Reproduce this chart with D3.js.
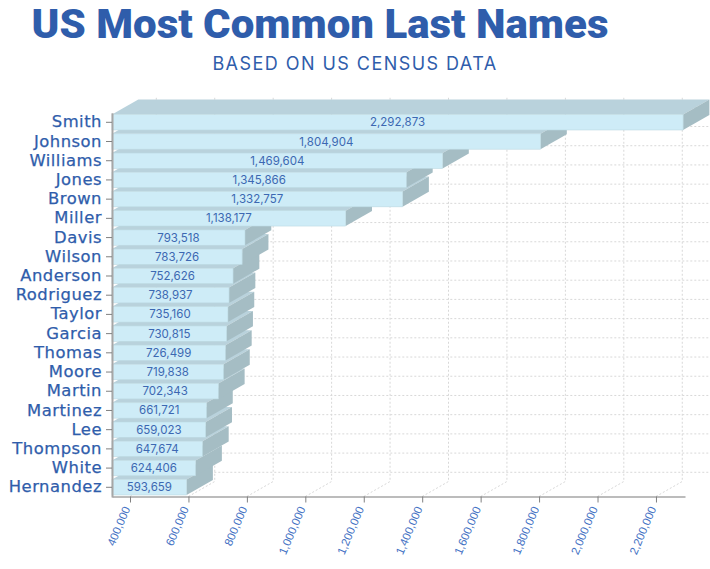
<!DOCTYPE html>
<html><head><meta charset="utf-8">
<script src="https://cdn.jsdelivr.net/npm/d3@7"></script>
<style>html,body{margin:0;background:#fff}svg{display:block}</style>
</head><body><svg id="c" width="710" height="569"></svg>
<script>
const names=["Smith","Johnson","Williams","Jones","Brown","Miller","Davis","Wilson","Anderson","Rodriguez","Taylor","Garcia","Thomas","Moore","Martin","Martinez","Lee","Thompson","White","Hernandez"];
const counts=[2292873,1804904,1469604,1345866,1332757,1138177,793518,783726,752626,738937,735160,730815,726499,719838,702343,661721,659023,647674,624406,593659];
const tickValues=[400000,600000,800000,1000000,1200000,1400000,1600000,1800000,2000000,2200000];
const domainX=[338400,2299400];
const dx=26.3,dy=-15;
const blue="#2f5dab";
const svg=d3.select("#c");
const x=d3.scaleLinear().domain(domainX).range([112,685]);
const y=d3.scaleBand().domain(names).range([112.7,496.9]).paddingInner(0.2).paddingOuter(0.1);
const base=x.range()[0],floor=496.5;

svg.append("text").attr("x",320).attr("y",37.5).attr("text-anchor","middle")
  .attr("font-family","Roboto").attr("font-weight",900).attr("font-size",40.5).attr("fill",blue)
  .attr("textLength",577).attr("lengthAdjust","spacingAndGlyphs").text("US Most Common Last Names");
svg.append("text").attr("x",355).attr("y",70).attr("text-anchor","middle")
  .attr("font-family","Inter").attr("font-size",18).attr("letter-spacing",1.45).attr("fill",blue).text("BASED ON US CENSUS DATA");

const grid=svg.append("g").attr("fill","none").attr("stroke","#d8d8d8").attr("stroke-dasharray","2,2");
tickValues.forEach(t=>{
  const px=x(t);
  grid.append("path").attr("d",`M${px},${floor}L${px+dx},${floor+dy}V97`);
});
names.forEach(n=>{
  const cy=y(n)+y.bandwidth()/2+dy;
  grid.append("line").attr("x1",base+dx).attr("x2",x(counts[0])+dx).attr("y1",cy).attr("y2",cy);
});

const bars=svg.append("g");
names.map((n,i)=>({n,v:counts[i]})).reverse().forEach(d=>{
  const t=y(d.n),h=y.bandwidth(),r=x(d.v);
  const g=bars.append("g");
  g.append("polygon").attr("fill","#b9d2dc").attr("points",[[base,t],[base+dx,t+dy],[r+dx,t+dy],[r,t]].join(" "));
  g.append("polygon").attr("fill","#a5bdc4").attr("points",[[r,t],[r+dx,t+dy],[r+dx,t+h+dy],[r,t+h]].join(" "));
  g.append("rect").attr("x",base).attr("y",t).attr("width",r-base).attr("height",h).attr("fill","#ceecf7").attr("stroke","#bcd9e2").attr("stroke-width",0.6);
});

const fmt=d3.format(",");
const labels=svg.append("g").attr("font-family","Inter").attr("font-weight",400).attr("font-size",11.5).attr("fill","#3c68b2").attr("text-anchor","middle");
names.forEach((n,i)=>{
  labels.append("text").attr("x",(base+x(counts[i]))/2).attr("y",y(n)+y.bandwidth()/2+4).text(fmt(counts[i]));
});

const ax=svg.append("g").attr("transform",`translate(0,${floor})`).call(d3.axisBottom(x).tickValues(tickValues).tickSize(6).tickSizeOuter(0).tickPadding(6).tickFormat(fmt));
ax.select(".domain").attr("stroke","#a6a6a6").attr("stroke-width",1.6);
ax.selectAll(".tick line").attr("stroke","#808080");
ax.selectAll(".tick text").attr("font-family","Liberation Sans").attr("font-size",11.5).attr("fill","#4472c4")
  .attr("text-anchor","end").attr("dx",0).attr("dy",0).attr("y",12).attr("x",0).attr("transform","rotate(-67 0 12)");

const ay=svg.append("g").attr("transform",`translate(${base},0)`).call(d3.axisLeft(y).tickSize(6).tickSizeOuter(0).tickPadding(4));
ay.select(".domain").attr("stroke","#a6a6a6").attr("stroke-width",2);
ay.selectAll(".tick line").attr("stroke","#808080");
ay.selectAll(".tick text").attr("font-family","DejaVu Sans").attr("font-size",16.4).attr("letter-spacing",0.5).attr("fill",blue).attr("stroke",blue).attr("stroke-width",0.25).attr("dy","0.31em");
</script></body></html>
